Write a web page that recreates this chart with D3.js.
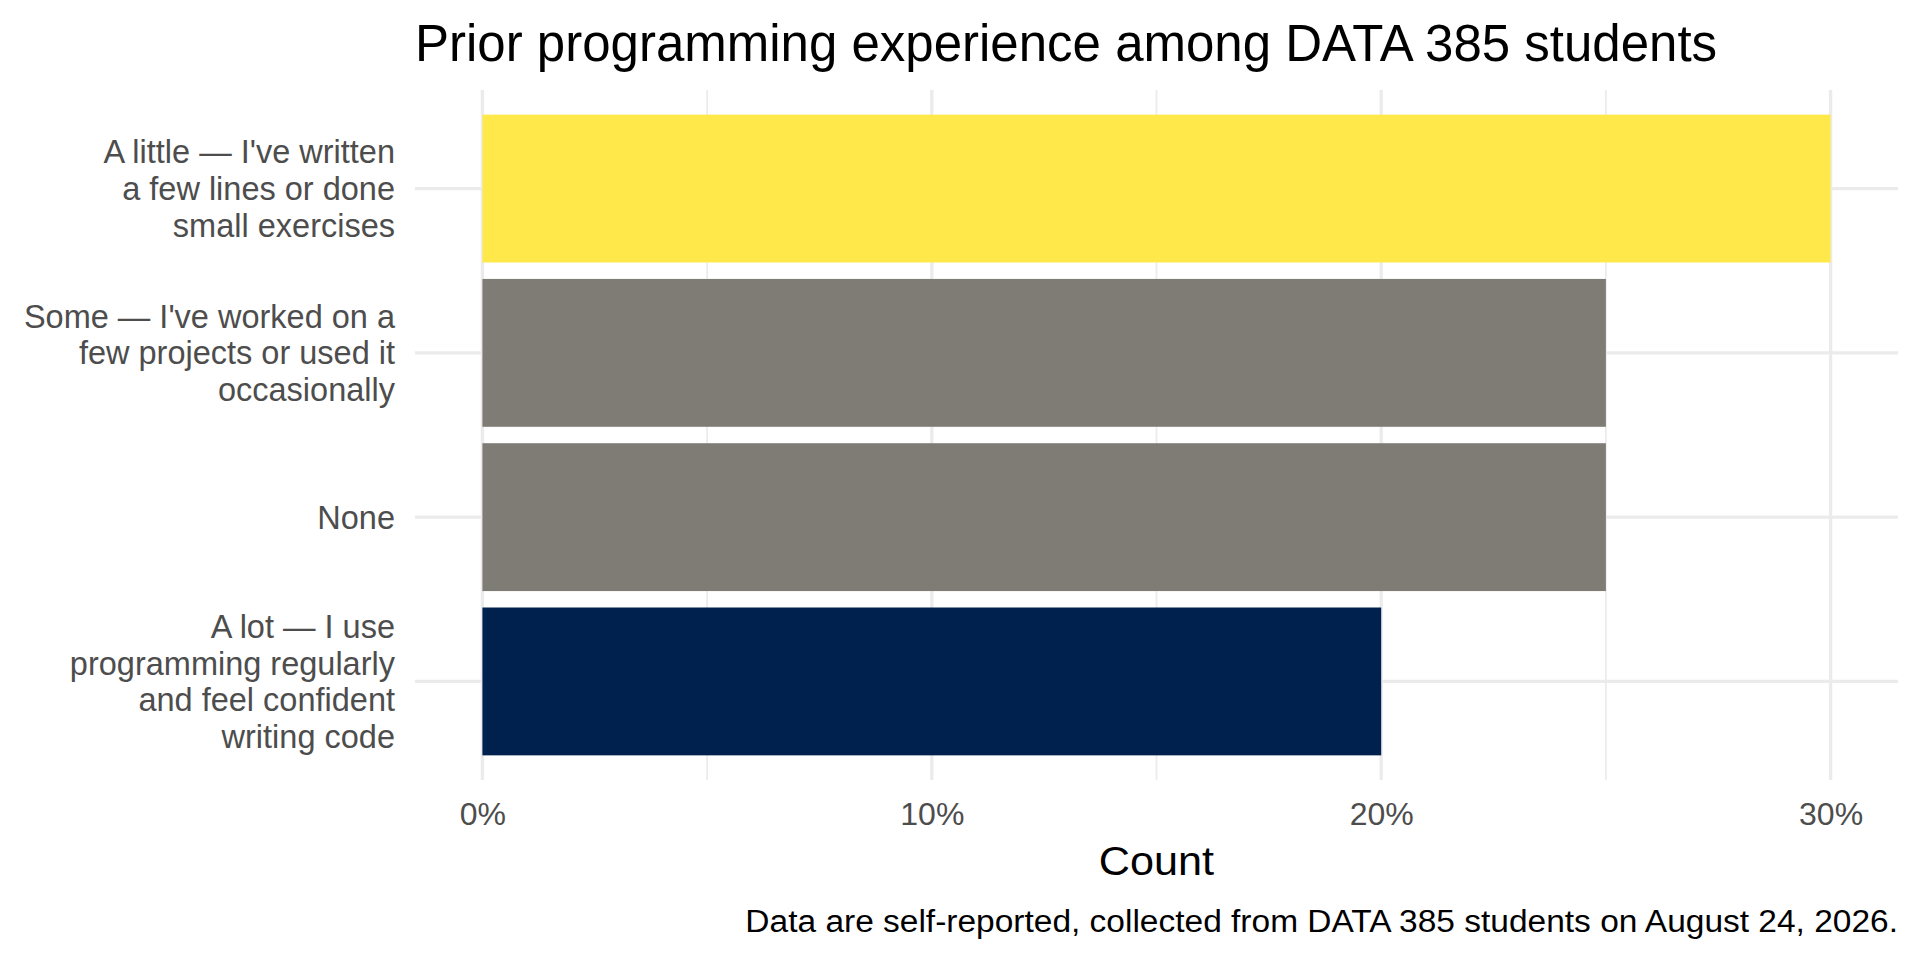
<!DOCTYPE html>
<html>
<head>
<meta charset="utf-8">
<script src="https://cdn.jsdelivr.net/npm/d3@7"></script>
<style>
  html, body { margin: 0; padding: 0; background: #fff; }
  text { font-family: "Liberation Sans", Arial, sans-serif; }
</style>
</head>
<body>
<div id="chart"></div>
<script>
// chart data
var categories = [
  "A little — I've written\na few lines or done\nsmall exercises",
  "Some — I've worked on a\nfew projects or used it\noccasionally",
  "None",
  "A lot — I use\nprogramming regularly\nand feel confident\nwriting code"
];
var percents = [30, 25, 25, 20];
var groups = ["highlight", "other", "other", "top"];
var majorTicks = [0, 10, 20, 30];
var minorTicks = [5, 15, 25];

var width = 1920, height = 960;
var panel = { left: 415, right: 1898, top: 90, bottom: 780 };

var svg = d3.select("#chart")
    .append("svg")
    .attr("width", width)
    .attr("height", height);

// scales (ggplot-style 5% expansion on x)
var x = d3.scaleLinear()
    .domain([-1.5, 31.5])
    .range([panel.left, panel.right]);

var y = d3.scaleBand()
    .domain(categories)
    .range([panel.top, panel.bottom])
    .paddingInner(0.1)
    .paddingOuter(0.15);

var color = d3.scaleOrdinal()
    .domain(["highlight", "other", "top"])
    .range(["#FFE94A", "#7F7C75", "#00214E"]);

// widen text a bit, the reference font renders slightly wider
function stretch(sel, f) {
    sel.each(function() {
        var len = this.getComputedTextLength();
        d3.select(this).attr("textLength", len * f).attr("lengthAdjust", "spacingAndGlyphs");
    });
}

// grid lines
var grid = svg.append("g");
grid.selectAll(".minor")
    .data(minorTicks)
    .join("line")
    .attr("x1", d => x(d)).attr("x2", d => x(d))
    .attr("y1", panel.top).attr("y2", panel.bottom)
    .attr("stroke", "#EBEBEB")
    .attr("stroke-width", 1.7);

grid.selectAll(".major")
    .data(majorTicks)
    .join("line")
    .attr("x1", d => x(d)).attr("x2", d => x(d))
    .attr("y1", panel.top).attr("y2", panel.bottom)
    .attr("stroke", "#EBEBEB")
    .attr("stroke-width", 3.3);

grid.selectAll(".hmajor")
    .data(categories)
    .join("line")
    .attr("x1", panel.left).attr("x2", panel.right)
    .attr("y1", d => y(d) + y.bandwidth() / 2)
    .attr("y2", d => y(d) + y.bandwidth() / 2)
    .attr("stroke", "#EBEBEB")
    .attr("stroke-width", 3.3);

// bars
svg.append("g")
    .selectAll("rect")
    .data(categories)
    .join("rect")
    .attr("x", x(0))
    .attr("y", d => y(d))
    .attr("width", (d, i) => x(percents[i]) - x(0))
    .attr("height", y.bandwidth())
    .attr("fill", (d, i) => color(groups[i]));

// x axis labels
var xAxis = svg.append("g")
    .attr("transform", "translate(0," + panel.bottom + ")")
    .call(d3.axisBottom(x).tickValues(majorTicks).tickSize(0).tickPadding(22)
        .tickFormat(d => d + "%"));
xAxis.select(".domain").remove();
xAxis.selectAll("text")
    .attr("fill", "#4D4D4D")
    .style("font-size", "32px");

// y axis labels (wrapped)
var yAxis = svg.append("g")
    .attr("transform", "translate(" + panel.left + ",0)")
    .call(d3.axisLeft(y).tickSize(0).tickPadding(20));
yAxis.select(".domain").remove();
var lineH = 36.7;
yAxis.selectAll("text")
    .attr("fill", "#4D4D4D")
    .style("font-size", "32.5px")
    .attr("dy", null)
    .each(function(d) {
        var t = d3.select(this);
        var lines = d.split("\n");
        t.text(null);
        var first = -(lines.length - 1) / 2 * lineH + 11.5;
        lines.forEach(function(line, i) {
            t.append("tspan")
                .attr("x", -20)
                .attr("y", first + i * lineH)
                .text(line);
        });
    });

// title, axis title, caption
svg.append("text")
    .attr("x", panel.left)
    .attr("y", 61)
    .attr("fill", "#000")
    .style("font-size", "51px")
    .text("Prior programming experience among DATA 385 students");

svg.append("text")
    .attr("x", (panel.left + panel.right) / 2)
    .attr("y", 875)
    .attr("text-anchor", "middle")
    .attr("fill", "#000")
    .style("font-size", "40px")
    .text("Count")
    .call(stretch, 1.08);

svg.append("text")
    .attr("x", panel.right)
    .attr("y", 932)
    .attr("text-anchor", "end")
    .attr("fill", "#000")
    .style("font-size", "31px")
    .text("Data are self-reported, collected from DATA 385 students on August 24, 2026.")
    .call(stretch, 1.08);
</script>
</body>
</html>
